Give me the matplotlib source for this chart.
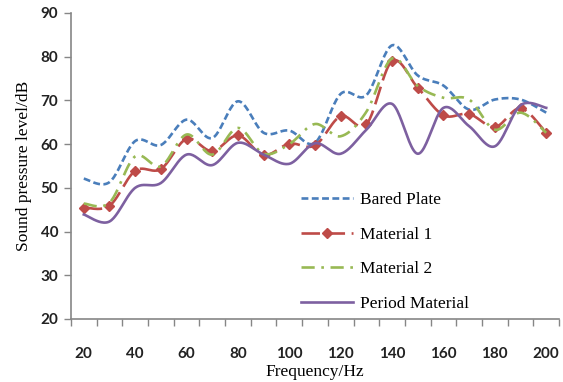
import numpy as np
import matplotlib
matplotlib.use("Agg")
import matplotlib.pyplot as plt

# frequencies (Hz) - category axis
freqs = [20, 30, 40, 50, 60, 70, 80, 90, 100, 110, 120, 130, 140, 150, 160, 170, 180, 190, 200]

bared_plate = [52.1, 51.3, 60.7, 59.8, 65.6, 61.4, 69.8, 62.6, 63.1, 60.3,
               71.5, 71.2, 82.6, 75.7, 73.4, 67.9, 70.2, 70.2, 67.2]
material_1 = [45.5, 45.9, 53.9, 54.3, 61.2, 58.4, 62.0, 57.5, 60.1, 59.7,
              66.4, 64.5, 79.0, 72.9, 66.6, 66.9, 63.9, 68.2, 62.6]
material_2 = [46.4, 46.6, 57.2, 54.9, 62.2, 57.6, 63.7, 57.8, 60.0, 64.6,
              61.8, 67.4, 79.6, 73.3, 70.6, 70.2, 63.3, 67.2, 62.6]
period_mat = [43.9, 42.3, 50.0, 51.1, 57.6, 55.2, 60.3, 57.6, 55.5, 60.2,
              57.8, 63.3, 69.2, 57.8, 68.3, 64.1, 59.5, 68.9, 68.3]

serif = ["Liberation Serif", "DejaVu Serif"]
tick_font = ["Lato", "DejaVu Sans"]


def smooth(xs, ys, n=24):
    """Excel-style smoothed line: cubic Bezier through every point."""
    p = np.column_stack([np.asarray(xs, float), np.asarray(ys, float)])
    pts = np.vstack([p[0], p, p[-1]])
    out = []
    t = np.linspace(0, 1, n, endpoint=False)[:, None]
    for i in range(1, len(pts) - 2):
        p0, p1 = pts[i], pts[i + 1]
        c1 = p0 + (pts[i + 1] - pts[i - 1]) / 6.0
        c2 = p1 - (pts[i + 2] - pts[i]) / 6.0
        seg = ((1 - t) ** 3) * p0 + 3 * ((1 - t) ** 2) * t * c1 + 3 * (1 - t) * t ** 2 * c2 + t ** 3 * p1
        out.append(seg)
    out.append(p[-1][None, :])
    out = np.vstack(out)
    return out[:, 0], out[:, 1], n


fig = plt.figure(figsize=(5.63, 3.82), dpi=100)
ax = fig.add_axes([0.126, 0.165, 0.867, 0.801])

xpos = np.arange(len(freqs))
lw = 1.9

sx, sy, n = smooth(xpos, bared_plate)
ax.plot(sx, sy, color="#4A7EBB", lw=lw, dashes=(2.6, 1.3), label="Bared Plate")

sx, sy, n = smooth(xpos, material_1)
ax.plot(sx, sy, color="#BE4B48", lw=lw, dashes=(7, 2.5), marker="D", ms=5.5,
        markevery=list(range(0, len(sx), n)), label="Material 1")

sx, sy, n = smooth(xpos, material_2)
ax.plot(sx, sy, color="#98B954", lw=lw, dashes=(5, 2.5, 1, 2.5), label="Material 2")

sx, sy, n = smooth(xpos, period_mat)
ax.plot(sx, sy, color="#7D60A0", lw=lw, label="Period Material")

ax.set_xlim(-0.5, len(freqs) - 0.5)
ax.set_ylim(20, 90)
ax.set_yticks(range(20, 91, 10))
ax.set_xticks(xpos[::2])
ax.set_xticklabels([str(f) for f in freqs[::2]])
ax.set_xticks(np.arange(-0.5, len(freqs), 1.0), minor=True)

for s in ["top", "right"]:
    ax.spines[s].set_visible(False)
for s in ["left", "bottom"]:
    ax.spines[s].set_color("#868686")
    ax.spines[s].set_linewidth(1.2)

ax.tick_params(axis="y", direction="out", length=5, color="#868686", width=1.0,
               labelsize=11, labelcolor="#222222", pad=4)
ax.tick_params(axis="x", which="major", length=0, labelsize=11, labelcolor="#222222", pad=20)
ax.tick_params(axis="x", which="minor", direction="out", length=5, color="#868686", width=1.0)
for lab in ax.get_xticklabels() + ax.get_yticklabels():
    lab.set_family(tick_font)
    lab.set_fontweight("bold")

ax.set_xlabel("Frequency/Hz", family=serif, fontsize=12.5, labelpad=2)
ax.set_ylabel("Sound pressure level/dB", family=serif, fontsize=12.5, labelpad=6)

ax.legend(loc="upper left", bbox_to_anchor=(0.44, 0.465), frameon=False,
          prop={"family": serif, "size": 12.5}, handlelength=3.0,
          labelspacing=1.05, handletextpad=0.4)

fig.savefig("out.png", dpi=100)
